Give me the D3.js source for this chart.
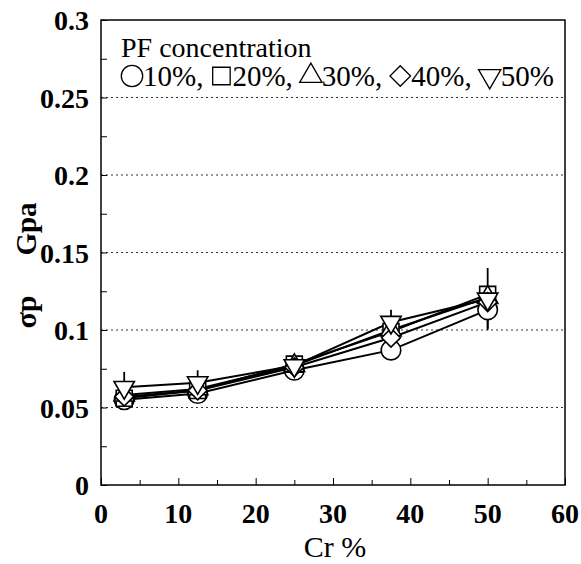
<!DOCTYPE html>
<html>
<head>
<meta charset="utf-8">
<script src="https://cdn.jsdelivr.net/npm/d3@7"></script>
<style>
body { margin: 0; background: #fff; }
</style>
</head>
<body>
<svg id="chart" width="581" height="564" font-family="'Liberation Serif', 'Times New Roman', Times, serif"></svg>
<script>
// Data
const crValues = [3, 12.5, 25, 37.5, 50];
const seriesNames = ["10%", "20%", "30%", "40%", "50%"];
const pf10 = [0.055, 0.059, 0.074, 0.087, 0.113];
const pf20 = [0.056, 0.061, 0.078, 0.099, 0.123];
const pf30 = [0.058, 0.062, 0.077, 0.1, 0.121];
const pf40 = [0.057, 0.061, 0.076, 0.095, 0.118];
const pf50 = [0.063, 0.066, 0.077, 0.105, 0.12];
const err10 = [0.006, 0.004, 0.003, 0.005, 0.012];
const err50 = [0.01, 0.008, 0.003, 0.008, 0.02];
const xTicks = [0, 10, 20, 30, 40, 50, 60];
const yTicks = [0, 0.05, 0.1, 0.15, 0.2, 0.25, 0.3];
const yTickLabels = ["0", "0.05", "0.1", "0.15", "0.2", "0.25", "0.3"];

const allSeries = [pf10, pf20, pf30, pf40, pf50];
const allErr = [err10, null, null, null, err50];
const shapes = ["circle", "square", "triangle", "diamond", "down"];

let svg = d3.select("#chart");
const margin = {top: 20, left: 101, right: 16, bottom: 79};
const W = 581 - margin.left - margin.right;
const H = 564 - margin.top - margin.bottom;

const xScale = d3.scaleLinear().domain([0, 60]).range([0, W]);
const yScale = d3.scaleLinear().domain([0, 0.3]).range([H, 0]);

const g = svg.append("g").attr("transform", `translate(${margin.left},${margin.top})`);

// grid
g.append("g").selectAll("line").data(yTicks.slice(1, 6))
    .enter().append("line")
    .attr("x1", 0).attr("x2", W)
    .attr("y1", d => yScale(d)).attr("y2", d => yScale(d))
    .attr("stroke", "#333").attr("stroke-width", 1)
    .attr("stroke-dasharray", "2,3");

// frame
g.append("rect").attr("width", W).attr("height", H)
    .attr("fill", "none").attr("stroke", "#000").attr("stroke-width", 1.5);

// inner ticks
const xAxis = d3.axisBottom(xScale).tickValues(d3.range(0, 61, 5))
    .tickSize(-6).tickFormat("");
g.append("g").attr("transform", `translate(0,${H})`).call(xAxis)
    .call(a => a.select(".domain").remove())
    .selectAll("line").attr("y2", (d, i) => d % 10 == 0 ? -7 : -5);

const yAxis = d3.axisLeft(yScale).tickValues(d3.range(0, 0.3001, 0.025))
    .tickSize(-6).tickFormat("");
g.append("g").call(yAxis)
    .call(a => a.select(".domain").remove());

// tick labels
g.append("g").selectAll("text").data(xTicks).enter().append("text")
    .attr("x", d => xScale(d)).attr("y", H + 38)
    .attr("text-anchor", "middle").attr("font-weight", "bold").attr("font-size", 28)
    .text(d => d);

g.append("g").selectAll("text").data(yTicks).enter().append("text")
    .attr("x", -12).attr("y", d => yScale(d) + 10)
    .attr("text-anchor", "end").attr("font-weight", "bold").attr("font-size", 28)
    .text((d, i) => yTickLabels[i]);

// axis titles
svg.append("text").attr("x", 335).attr("y", 557)
    .attr("text-anchor", "middle").attr("font-size", 30).text("Cr %");

svg.append("text")
    .attr("transform", "translate(36,229) rotate(-90)")
    .attr("text-anchor", "middle").attr("font-weight", "bold").attr("font-size", 29)
    .text("Gpa");
svg.append("text")
    .attr("transform", "translate(36,312) rotate(-90)")
    .attr("text-anchor", "middle").attr("font-weight", "bold").attr("font-size", 30)
    .text("\u03c3p");

// symbols
function symbolPath(shape, size) {
    if (shape == "circle") return d3.symbol(d3.symbolCircle, size * 1.0)();
    if (shape == "square") return d3.symbol(d3.symbolSquare, size * 0.85)();
    if (shape == "triangle") return d3.symbol(d3.symbolTriangle, size * 0.6)();
    if (shape == "diamond") return d3.symbol(d3.symbolDiamond2, size * 0.75)();
    return d3.symbol(d3.symbolTriangle, size * 0.6)();
}
function symbolRotate(shape) { return shape == "down" ? " rotate(180)" : ""; }

const line = d3.line().x((d, i) => xScale(crValues[i])).y(d => yScale(d));

// lines
allSeries.forEach(s => {
    g.append("path").datum(s).attr("d", line)
        .attr("fill", "none").attr("stroke", "#000").attr("stroke-width", 2);
});

// error bars
allErr.forEach((e, k) => {
    if (!e) return;
    g.append("g").selectAll("line").data(allSeries[k]).enter().append("line")
        .attr("x1", (d, i) => xScale(crValues[i])).attr("x2", (d, i) => xScale(crValues[i]))
        .attr("y1", (d, i) => yScale(d - e[i])).attr("y2", (d, i) => yScale(d + e[i]))
        .attr("stroke", "#000").attr("stroke-width", 1.8);
});

// markers
allSeries.forEach((s, k) => {
    g.append("g").selectAll("path").data(s).enter().append("path")
        .attr("d", symbolPath(shapes[k], 300))
        .attr("transform", (d, i) => `translate(${xScale(crValues[i])},${yScale(d)})` + symbolRotate(shapes[k]))
        .attr("fill", "#fff").attr("stroke", "#000").attr("stroke-width", 1.6);
});

// legend
svg.append("text").attr("x", 121).attr("y", 57).attr("font-size", 28).text("PF concentration");
let lx = 122;
const ly = 76;
shapes.forEach((sh, k) => {
    svg.append("path").attr("d", symbolPath(sh, 360))
        .attr("transform", `translate(${lx + 10},${ly})` + symbolRotate(sh))
        .attr("fill", "none").attr("stroke", "#000").attr("stroke-width", 1.3);
    let t = svg.append("text").attr("x", lx + 21).attr("y", ly + 10).attr("font-size", 29)
        .text(seriesNames[k] + (k < 4 ? "," : ""));
    lx = lx + 21 + t.node().getComputedTextLength() + 8;
});
</script>
</body>
</html>
